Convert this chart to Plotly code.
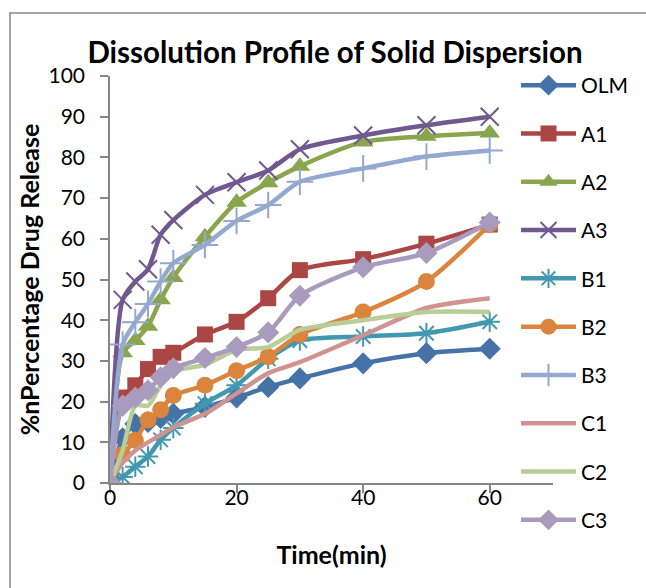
import plotly.graph_objects as go

time_min = [0, 2, 4, 6, 8, 10, 15, 20, 25, 30, 40, 50, 60]

series_names = ["OLM", "A1", "A2", "A3", "B1", "B2", "B3", "C1", "C2", "C3"]
olm = [0, 11, 14.5, 15, 16, 17, 18.7, 21, 23.6, 25.7, 29.4, 31.9, 33]
a1 = [0, 21, 24, 28, 31, 32, 36.5, 39.6, 45.4, 52.3, 55, 58.8, 63.5]
a2 = [0, 32, 35, 38.5, 45, 50.5, 60.5, 69, 73.8, 77.8, 83.8, 85.2, 86]
a3 = [0, 45, 49.5, 52.5, 61, 64.6, 70.8, 73.9, 76.8, 82, 85.4, 87.9, 90]
b1 = [0, 1.5, 4, 6.5, 10.6, 13.5, 19.5, 24, 30.5, 35, 36, 36.8, 39.6]
b2 = [0, 7, 10.5, 15.5, 18, 21.5, 24, 27.6, 31, 36.5, 42, 49.5, 63.5]
b3 = [0, 34, 39.5, 44, 49.5, 54, 58.5, 64.4, 68.3, 74, 77.3, 80.2, 81.7]
c1 = [0, 5, 8, 10, 11.8, 13.7, 17, 22, 27, 29.7, 36.3, 43, 45.4]
c2 = [0, 8, 19, 19, 24, 27.5, 29, 32.7, 33.4, 37.6, 40, 42, 42]
c3 = [0, 19, 21, 22.8, 26, 28.2, 30.7, 33.4, 37, 46, 53, 56.5, 64]
values = [olm, a1, a2, a3, b1, b2, b3, c1, c2, c3]
x_ticks = [0, 20, 40, 60]

colors = ["#4572A7", "#AA4643", "#89A54E", "#71588F", "#4198AF",
          "#DB843D", "#93A9CF", "#D19392", "#B9CD96", "#A99BBD"]
symbols = ["diamond", "square", "triangle-up", "x-thin", "asterisk",
           "circle", "cross-thin", None, None, "diamond"]
sizes = [17, 16, 18, 18, 17, 17, 19, 0, 0, 17]

FONT = "Lato"
fig = go.Figure()
for name, ys, col, sym, sz in zip(series_names, values, colors, symbols, sizes):
    if sym is None:
        mode = "lines"
        marker = None
    elif sym in ("x-thin", "asterisk", "cross-thin"):
        mode = "lines+markers"
        marker = dict(symbol=sym + "-open" if sym == "asterisk" else sym, size=sz,
                      color=col, line=dict(width=2, color=col))
    else:
        mode = "lines+markers"
        marker = dict(symbol=sym, size=sz, color=col, line=dict(width=0))
    fig.add_trace(go.Scatter(
        x=time_min, y=ys, name=name, mode=mode, marker=marker,
        line=dict(color=col, width=4.5, shape="spline", smoothing=0.7),
        legendgroup=name,
    ))

# invisible helper trace so the label-only x axis is drawn
fig.add_trace(go.Scatter(x=x_ticks, y=[None] * len(x_ticks), xaxis="x2", yaxis="y",
                         mode="markers", showlegend=False, hoverinfo="skip",
                         marker=dict(opacity=0)))

fig.update_layout(
    width=646, height=588,
    margin=dict(l=110, r=93, t=76, b=105),
    paper_bgcolor="white", plot_bgcolor="white",
    font=dict(family=FONT, color="#000000", size=21),
    title=dict(text="<b>Dissolution Profile of Solid Dispersion</b>",
               x=(335 - 110) / 443, xanchor="center", y=1 - 53 / 588, yanchor="middle",
               yref="container", xref="paper",
               font=dict(family=FONT, size=29.5, color="#000000")),
    showlegend=True,
    legend=dict(x=(516 - 110) / 443, xanchor="left",
                y=1 + 11 / 407, yanchor="top", maxheight=600,
                font=dict(family=FONT, size=21, color="#000000"),
                bgcolor="rgba(0,0,0,0)", tracegroupgap=18, itemwidth=55),
    xaxis=dict(range=[0, 70], tickvals=x_ticks, showgrid=False,
               zeroline=False, showline=True, linecolor="#868686", linewidth=2,
               ticks="outside", ticklen=8, tickcolor="#868686", tickwidth=2,
               showticklabels=False,
               title=dict(text="<b>Time(min)</b>", standoff=54,
                          font=dict(family=FONT, size=25, color="#000000"))),
    xaxis2=dict(range=[0, 70], overlaying="x", anchor="y", side="bottom",
                tickvals=x_ticks, showgrid=False, zeroline=False, showline=False,
                ticks="", showticklabels=True,
                tickfont=dict(family=FONT, size=21, color="#000000")),
    yaxis=dict(range=[0, 100], dtick=10, showgrid=False,
               zeroline=False, showline=True, linecolor="#868686", linewidth=2,
               ticks="outside", ticklen=8, tickcolor="#868686", tickwidth=2,
               ticksuffix="\u00a0\u00a0",
               tickfont=dict(family=FONT, size=21, color="#000000"),
               title=dict(text="<b>%nPercentage Drug Release</b>", standoff=2,
                          font=dict(family=FONT, size=25, color="#000000"))),
    shapes=[dict(type="rect", xref="paper", yref="paper",
                 x0=(10 - 110) / 443, x1=1.4, y0=-0.4, y1=(483 - 13) / 407,
                 line=dict(color="#868686", width=1.5), fillcolor="rgba(0,0,0,0)",
                 layer="below")],
)

fig.write_html("out.html")
